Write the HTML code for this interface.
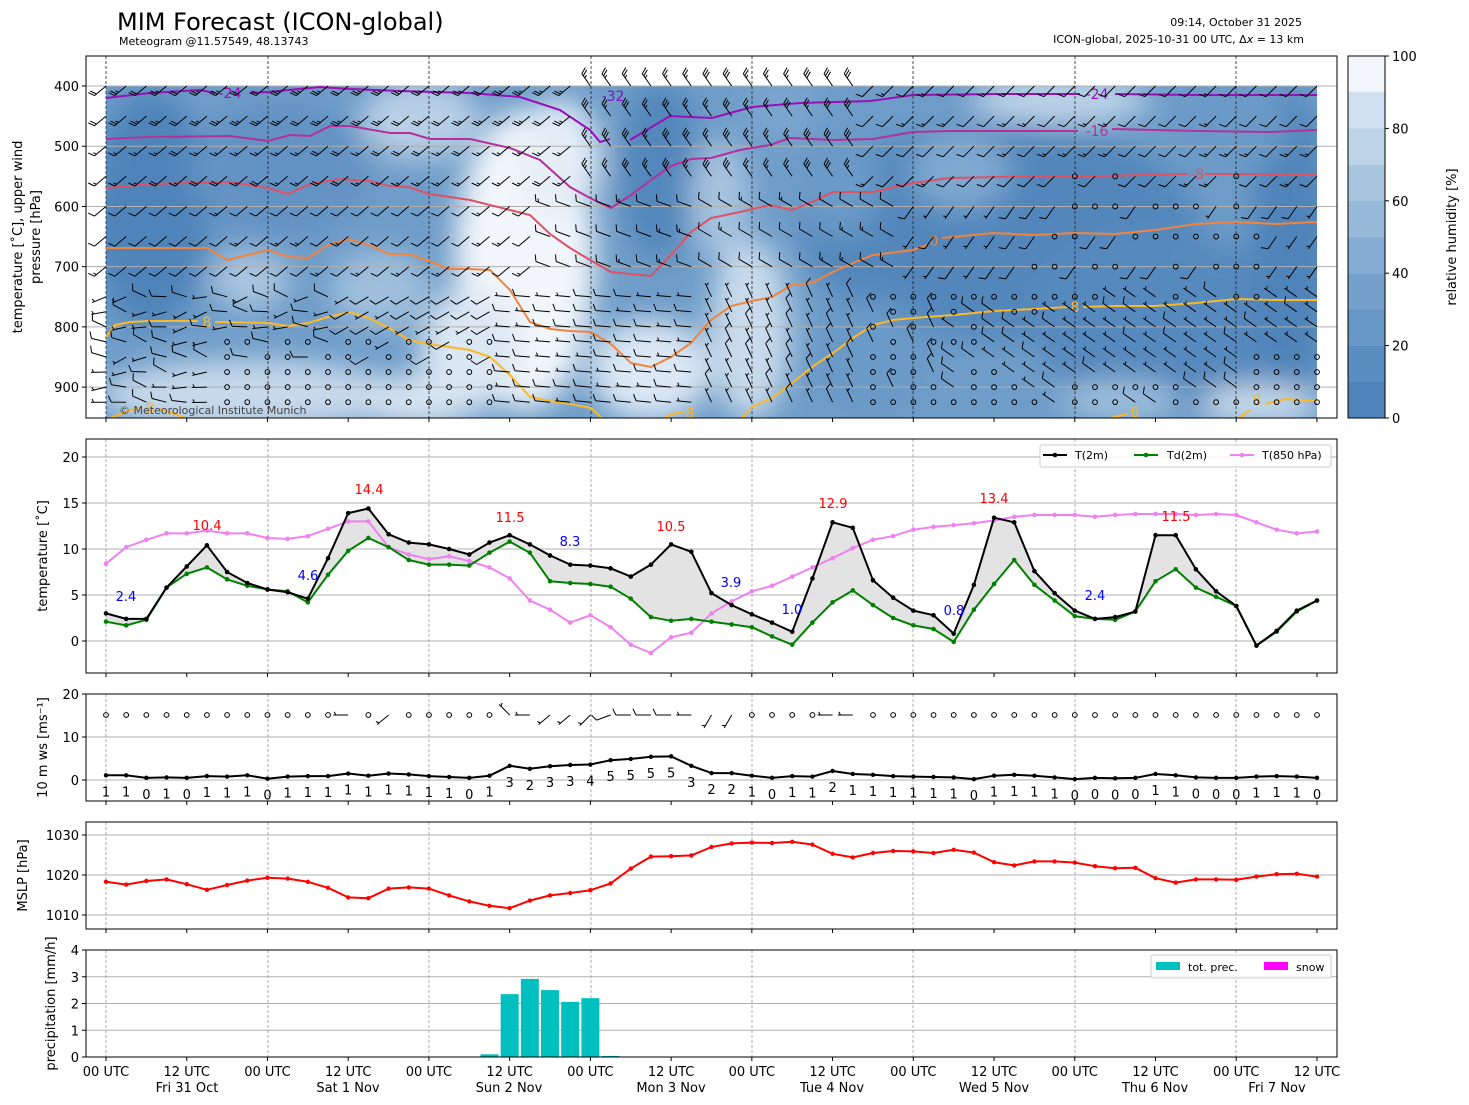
<!DOCTYPE html>
<html><head><meta charset="utf-8"><style>
html,body{margin:0;padding:0;background:#fff;}
svg{display:block;font-family:"DejaVu Sans","Liberation Sans",sans-serif;}
</style></head><body>
<svg id="s" width="1469" height="1105" viewBox="0 0 1469 1105" xmlns="http://www.w3.org/2000/svg">
<defs>
<filter id="bl" x="-20%" y="-20%" width="140%" height="140%"><feGaussianBlur stdDeviation="14"/></filter>
<clipPath id="c1"><rect x="106" y="86" width="1211" height="332"/></clipPath>
<clipPath id="c1b"><rect x="86" y="56" width="1251" height="362"/></clipPath>
</defs>
<text x="117" y="30" font-size="24">MIM Forecast (ICON-global)</text>
<text x="119" y="45" font-size="11">Meteogram @11.57549, 48.13743</text>
<text x="1302" y="26" font-size="11" text-anchor="end">09:14, October 31 2025</text>
<text x="1304" y="43" font-size="11" text-anchor="end">ICON-global, 2025-10-31 00 UTC, Δ<tspan font-style="italic">x</tspan> = 13 km</text>
<g id="g"></g>
</svg>
<script>
var NS="http://www.w3.org/2000/svg",G=document.getElementById('g');
function el(t,a,txt){var e=document.createElementNS(NS,t);for(var k in a)e.setAttribute(k,a[k]);if(txt!==undefined)e.textContent=txt;G.appendChild(e);return e;}
function X(i){return 106+i*20.1833;}
var dayX=[106,268,429,591,752,913,1075,1236];
function pl(pts,st,w,extra){var d=pts.map(function(p){return p[0].toFixed(1)+','+p[1].toFixed(1)}).join(' ');var a={points:d,fill:'none',stroke:st,'stroke-width':w,'stroke-linejoin':'round'};for(var k in extra)a[k]=extra[k];return el('polyline',a);}
function txt(x,y,s,size,anchor,col,extra){var a={x:x,y:y,'font-size':size,'text-anchor':anchor||'start',fill:col||'#000'};for(var k in extra)a[k]=extra[k];return el('text',a,s);}
function vtxt(x,y,s,size){return el('text',{x:0,y:0,'font-size':size,'text-anchor':'middle',transform:'translate('+x+','+y+') rotate(-90)'},s);}

// ===== Panel 1 =====
var YP=function(p){return 86+(p-400)*0.6022;};
var bg=el('g',{'clip-path':'url(#c1)'});
function blob(cx,cy,rx,ry,col,op){var e=document.createElementNS(NS,'ellipse');e.setAttribute('cx',cx);e.setAttribute('cy',cy);e.setAttribute('rx',rx);e.setAttribute('ry',ry);e.setAttribute('fill',col);e.setAttribute('fill-opacity',op||1);return e;}
var r=document.createElementNS(NS,'rect');r.setAttribute('x',106);r.setAttribute('y',86);r.setAttribute('width',1211);r.setAttribute('height',332);r.setAttribute('fill','#6f9dc9');bg.appendChild(r);
var bf=document.createElementNS(NS,'g');bf.setAttribute('filter','url(#bl)');bg.appendChild(bf);
[[150,210,60,120,'#4f84ba'],[280,170,90,70,'#6393c4'],[250,280,40,30,'#a9c5e0'],[420,120,60,40,'#b8cfe6'],
[380,290,50,40,'#9fbfdd'],
[525,260,70,150,'#f2f6fb'],[560,160,40,60,'#e5eef7'],[470,350,50,60,'#dbe7f3'],
[250,395,150,35,'#c7d9eb'],[420,400,60,25,'#d8e5f2'],
[660,170,40,90,'#5287bc'],[650,370,60,50,'#dce8f4'],[750,330,40,90,'#c9dbec'],[720,200,30,60,'#a6c3df'],
[1000,230,200,110,'#5287bc'],[1160,320,130,90,'#5689be'],[1290,250,40,160,'#4f84ba'],[870,360,60,60,'#6b9ac7'],
[1060,100,90,25,'#bcd3e8'],[960,170,50,40,'#7ea8d0'],[1230,130,60,40,'#6b9ac7'],[1120,400,60,20,'#9ebfdd'],[1260,405,60,20,'#c9dbec'],[840,180,40,60,'#6b9ac7'],[780,110,40,30,'#7aa5cf']
].forEach(function(b){bf.appendChild(blob(b[0],b[1],b[2],b[3],b[4]));});
[400,500,600,700,800,900].forEach(function(p){el('line',{x1:86,x2:1337,y1:YP(p),y2:YP(p),stroke:'#b0b0b0','stroke-width':1});});
dayX.forEach(function(x){el('line',{x1:x,x2:x,y1:56,y2:418,stroke:'#222','stroke-width':0.8,'stroke-dasharray':'3,2'});});
var cg=el('g',{'clip-path':'url(#c1)'});
function cl(pts,col){var d=pts.map(function(p){return p[0]+','+p[1]}).join(' ');var e=document.createElementNS(NS,'polyline');e.setAttribute('points',d);e.setAttribute('fill','none');e.setAttribute('stroke',col);e.setAttribute('stroke-width',2);cg.appendChild(e);}
cl([[106,98],[150,93],[200,90],[215,93]],'#9b0fb8');
cl([[250,93],[268,92],[320,87],[350,89],[400,91],[470,93],[520,97],[560,110],[590,130],[600,142],[610,139]],'#9b0fb8');
cl([[630,140],[670,116],[712,118],[752,107],[800,103],[870,101],[913,95],[1000,94],[1080,94]],'#9b0fb8');
cl([[1115,94],[1200,95],[1317,95]],'#9b0fb8');
cl([[106,139],[150,137],[230,136],[268,141],[290,135],[310,136],[330,126],[350,126],[390,133],[410,133],[430,139],[470,139],[510,148],[540,160],[570,187],[590,198],[611,208],[631,195],[651,180],[671,166],[691,159],[711,158],[740,150],[770,145],[790,138],[833,140],[873,139],[913,132],[950,131],[1078,131]],'#b5309a');
cl([[1112,129],[1200,131],[1270,132],[1317,130]],'#b5309a');
cl([[106,188],[150,184],[230,182],[268,188],[288,194],[310,184],[340,179],[370,181],[389,186],[409,187],[429,194],[470,200],[510,210],[530,215],[550,234],[570,248],[590,260],[611,272],[631,274],[651,276],[671,255],[691,232],[711,218],[740,212],[770,205],[792,210],[812,202],[833,192],[873,192],[913,183],[950,178],[1000,177],[1054,176],[1100,176],[1188,174]],'#dd5265');
cl([[1205,174],[1317,174]],'#dd5265');
cl([[106,248],[150,248],[207,248],[227,260],[268,250],[290,257],[308,258],[328,245],[348,239],[369,245],[389,254],[409,254],[429,261],[449,269],[469,269],[490,270],[510,290],[530,322],[550,329],[570,331],[591,332],[611,344],[631,363],[651,367],[671,357],[691,343],[711,320],[731,306],[752,301],[772,297],[792,285],[812,283],[833,272],[853,263],[873,255],[913,250],[927,245]],'#f0843e');
cl([[942,238],[994,233],[1034,235],[1075,233],[1115,234],[1155,230],[1196,224],[1236,222],[1276,224],[1317,222]],'#f0843e');
cl([[106,337],[115,325],[130,322],[150,321],[187,321],[198,321]],'#fbb829');
cl([[215,322],[227,322],[268,323],[288,326],[308,323],[328,317],[350,312],[369,318],[389,328],[409,340],[429,344],[449,347],[470,350],[490,357],[510,375],[530,397],[550,401],[570,404],[591,408],[604,420]],'#fbb829');
cl([[740,420],[752,407],[772,398],[792,383],[812,367],[833,353],[853,338],[873,325],[893,320],[913,318],[954,315],[994,311],[1034,309],[1068,307]],'#fbb829');
cl([[1083,307],[1115,306],[1155,306],[1196,303],[1236,299],[1276,300],[1317,300]],'#fbb829');
cl([[106,420],[125,412],[140,408]],'#fbb829');cl([[160,409],[175,414],[190,420]],'#fbb829');
cl([[660,420],[672,414],[684,412]],'#fbb829');cl([[1105,420],[1118,416],[1128,414]],'#fbb829');
cl([[1236,420],[1250,410]],'#fbb829');cl([[1266,404],[1285,399],[1317,401]],'#fbb829');
txt(230,98,'-24',14,'middle','#9b0fb8');txt(613,101,'-32',14,'middle','#7a18b8');txt(1097,99,'-24',14,'middle','#9b0fb8');
txt(1097,136,'-16',14,'middle','#b5309a');txt(1197,179,'-8',14,'middle','#dd5265');txt(934,246,'0',14,'middle','#f0843e');
txt(207,327,'8',14,'middle','#fbb829');txt(1075,312,'8',14,'middle','#fbb829');txt(150,413,'8',14,'middle','#fbb829');
txt(690,418,'8',14,'middle','#fbb829');txt(1135,417,'8',14,'middle','#fbb829');txt(1257,405,'8',14,'middle','#fbb829');
txt(119,414,'© Meteorological Institute Munich',11,'start','#444');
var bars=el('g',{'clip-path':'url(#c1b)',stroke:'#000','stroke-width':1,fill:'none'});
function barb(parent,x,y,ang,spd){
 if(spd<2.5){var c=document.createElementNS(NS,'circle');c.setAttribute('cx',x);c.setAttribute('cy',y);c.setAttribute('r',2.4);parent.appendChild(c);return;}
 var a=ang*Math.PI/180,L=15,dx=Math.cos(a),dy=Math.sin(a);
 var ex=x+L*dx,ey=y+L*dy;
 var fa=a+65*Math.PI/180,fx=Math.cos(fa),fy=Math.sin(fa);
 var d='M'+x.toFixed(1)+','+y.toFixed(1)+'L'+ex.toFixed(1)+','+ey.toFixed(1);
 var n=Math.floor(spd/10),h=(spd%10)>=5?1:0,pos=0;
 for(var k=0;k<n;k++){var bx=ex-dx*pos*2.6,by=ey-dy*pos*2.6;d+='M'+bx.toFixed(1)+','+by.toFixed(1)+'l'+(fx*7).toFixed(1)+','+(fy*7).toFixed(1);pos++;}
 if(h){if(pos==0)pos=1;var bx=ex-dx*pos*2.6,by=ey-dy*pos*2.6;d+='M'+bx.toFixed(1)+','+by.toFixed(1)+'l'+(fx*3.5).toFixed(1)+','+(fy*3.5).toFixed(1);}
 var p=document.createElementNS(NS,'path');p.setAttribute('d',d);parent.appendChild(p);
}
var levs=[400,450,500,550,600,650,700,750,775,800,825,850,875,900,925];
function hsh(i,j){var s=Math.sin(i*12.9898+j*78.233)*43758.5453;return s-Math.floor(s);}
for(var i=0;i<=60;i++){var x=X(i);
 for(var j=0;j<levs.length;j++){var p=levs[j],y=YP(p),ang,spd,rn=hsh(i,j);
  if(p<=550){ if(i>=24&&i<=37){ang=235;spd=25+rn*10;} else if(i<24){ang=140;spd=(p<=450?22:15)+rn*8;} else {ang=135;spd=10+rn*8;} }
  else if(p<=700){ if(i<22){ang=140;spd=10+rn*6;} else if(i<40){ang=i<30?200:210;spd=10+rn*6;} else {ang=125;spd=6+rn*6;} }
  else { if(i<12){ang=150+rn*60;spd=7+rn*6;} else if(i<30){ang=i<20?150:185;spd=8+rn*5;} else if(i<42){ang=245;spd=6+rn*6;} else {ang=215;spd=5+rn*6;} }
  if(p>=825&&i>=6&&i<=19&&((i+j)%3!=0||p>=875)) spd=0;
  if(p>=650&&p<=750&&i>=45&&i<=57&&rn<0.75) spd=0;
  if(p>=750&&p<=775&&i>=38&&i<=47&&rn<0.7) spd=0;
  if(p>=800&&i>=38&&i<=44&&rn<0.6) spd=0;
  if(p>=900&&i>=38&&(rn<0.7)) spd=0;
  if(p>=850&&i>=57) spd=0;
  if(p<=700&&p>=550&&i>=48&&i<=56&&rn<0.4) spd=0;
  barb(bars,x,y,ang,spd);
 }}
el('rect',{x:86,y:56,width:1251,height:362,fill:'none',stroke:'#000','stroke-width':1});
[400,500,600,700,800,900].forEach(function(p){var y=YP(p);el('line',{x1:82,x2:86,y1:y,y2:y,stroke:'#000'});txt(79,y+5,String(p),13,'end');});
vtxt(22,237,'temperature [˚C], upper wind',13);vtxt(40,237,'pressure [hPa]',13);
var cbc=['#4f84ba','#5a8dc0','#6797c6','#76a1cc','#86add3','#97b9da','#a9c6e1','#bcd3e8','#cfdfef','#e2ecf6'];
for(var k=0;k<10;k++){el('rect',{x:1348,y:418-(k+1)*36.2,width:37,height:36.4,fill:cbc[k]});}
el('rect',{x:1348,y:56,width:37,height:35,fill:'#f3f7fb'});
el('rect',{x:1348,y:56,width:37,height:362,fill:'none',stroke:'#000','stroke-width':1});
[0,20,40,60,80,100].forEach(function(v){var y=418-v*3.62;el('line',{x1:1385,x2:1389,y1:y,y2:y,stroke:'#000'});txt(1392,y+5,String(v),13);});
el('text',{x:0,y:0,'font-size':13,'text-anchor':'middle',transform:'translate(1456,237) rotate(-90)'},'relative humidity [%]');

function panel(y0,y1,ticks,yf,label,lx){
 ticks.forEach(function(t){var y=yf(t);el('line',{x1:86,x2:1337,y1:y,y2:y,stroke:'#b0b0b0','stroke-width':1});el('line',{x1:82,x2:86,y1:y,y2:y,stroke:'#000'});txt(79,y+5,String(t),13,'end');});
 dayX.forEach(function(x){el('line',{x1:x,x2:x,y1:y0,y2:y1,stroke:'#999','stroke-width':0.8,'stroke-dasharray':'3,2'});});
 vtxt(lx,(y0+y1)/2,label,13);
}
function frame(y0,y1){el('rect',{x:86,y:y0,width:1251,height:y1-y0,fill:'none',stroke:'#000','stroke-width':1});for(var k=0;k<=15;k++){var x=106+k*80.73;el('line',{x1:x,x2:x,y1:y1,y2:y1+4,stroke:'#000'});}}
for(var k=0;k<=15;k++){var x=106+k*80.73;el('line',{x1:x,x2:x,y1:418,y2:422,stroke:'#000'});}

var T=[3.0,2.4,2.4,5.8,8.1,10.4,7.5,6.3,5.6,5.3,4.6,9.0,13.9,14.4,11.6,10.7,10.5,10.0,9.4,10.7,11.5,10.5,9.3,8.3,8.2,7.9,7.0,8.3,10.5,9.7,5.2,3.9,2.9,2.0,1.0,6.8,12.9,12.3,6.6,4.7,3.3,2.8,0.8,6.1,13.4,12.9,7.6,5.2,3.3,2.4,2.6,3.2,11.5,11.5,7.8,5.4,3.8,-0.5,1.1,3.3,4.4];
var Td=[2.1,1.7,2.3,5.8,7.3,8.0,6.7,6.0,5.6,5.4,4.2,7.2,9.8,11.2,10.2,8.8,8.3,8.3,8.2,9.6,10.8,9.6,6.5,6.3,6.2,5.9,4.6,2.6,2.2,2.4,2.1,1.8,1.5,0.5,-0.4,2.0,4.2,5.5,3.9,2.5,1.7,1.3,-0.1,3.4,6.2,8.8,6.1,4.4,2.7,2.4,2.3,3.2,6.5,7.8,5.8,4.8,3.8,-0.5,1.0,3.2,4.4];
var T8=[8.4,10.2,11.0,11.7,11.7,12.0,11.7,11.7,11.2,11.1,11.4,12.2,13.0,13.0,10.2,9.4,8.9,9.2,8.7,8.0,6.8,4.4,3.4,2.0,2.8,1.5,-0.4,-1.3,0.4,0.9,3.0,4.3,5.4,6.0,7.0,8.0,9.0,10.1,11.0,11.4,12.1,12.4,12.6,12.8,13.1,13.5,13.7,13.7,13.7,13.5,13.7,13.8,13.8,13.8,13.7,13.8,13.7,12.9,12.1,11.7,11.9];
var Y2=function(t){return 641-t*9.2;};
panel(439,673,[0,5,10,15,20],Y2,'temperature [˚C]',47);
var poly=[];for(var i=0;i<=60;i++)poly.push([X(i),Y2(T[i])]);for(var i=60;i>=0;i--)poly.push([X(i),Y2(Td[i])]);
el('polygon',{points:poly.map(function(p){return p[0].toFixed(1)+','+p[1].toFixed(1)}).join(' '),fill:'#e3e3e3',stroke:'#bbb','stroke-width':0.6});
function series(arr,yf,col,r){var pts=arr.map(function(v,i){return [X(i),yf(v)]});pl(pts,col,2);pts.forEach(function(p){el('circle',{cx:p[0],cy:p[1],r:r||2.3,fill:col});});}
series(T8,Y2,'#ee82ee');series(Td,Y2,'#008000');series(T,Y2,'#000');
[[207,530,'10.4'],[369,494,'14.4'],[510,522,'11.5'],[671,531,'10.5'],[833,508,'12.9'],[994,503,'13.4'],[1176,521,'11.5']].forEach(function(a){txt(a[0],a[1],a[2],13,'middle','#f00');});
[[126,601,'2.4'],[308,580,'4.6'],[570,546,'8.3'],[731,587,'3.9'],[792,614,'1.0'],[954,615,'0.8'],[1095,600,'2.4']].forEach(function(a){txt(a[0],a[1],a[2],13,'middle','#00f');});
el('rect',{x:1040,y:445,width:291,height:22,fill:'#fff','fill-opacity':0.85,stroke:'#ccc',rx:2});
[[1043,1075,'#000','T(2m)'],[1134,1167,'#008000','Td(2m)'],[1230,1262,'#ee82ee','T(850 hPa)']].forEach(function(l){el('line',{x1:l[0],x2:l[0]+24,y1:455,y2:455,stroke:l[2],'stroke-width':2});el('circle',{cx:l[0]+12,cy:455,r:2.3,fill:l[2]});txt(l[1],459,l[3],11);});
frame(439,673);

var WS=[1.1,1.1,0.5,0.6,0.5,0.9,0.8,1.1,0.3,0.8,0.9,0.9,1.5,1.0,1.5,1.3,0.9,0.7,0.5,1.0,3.3,2.6,3.2,3.5,3.6,4.6,4.9,5.4,5.5,3.3,1.6,1.6,1.0,0.5,0.9,0.8,2.1,1.4,1.2,0.9,0.8,0.7,0.6,0.2,1.0,1.2,1.0,0.6,0.2,0.5,0.4,0.5,1.4,1.1,0.6,0.5,0.5,0.8,0.9,0.8,0.5];
var WL=[1,1,0,1,0,1,1,1,0,1,1,1,1,1,1,1,1,1,0,1,3,2,3,3,4,5,5,5,5,3,2,2,1,0,1,1,2,1,1,1,1,1,1,0,1,1,1,1,0,0,0,0,1,1,0,0,0,1,1,1,0];
var Y3=function(v){return 780-v*4.3;};
panel(694,801,[0,10,20],Y3,'10 m ws [ms⁻¹]',47);
series(WS,Y3,'#000',2.2);
WL.forEach(function(v,i){txt(X(i),Y3(WS[i])+21,String(v),13,'middle');});
var b3=el('g',{stroke:'#000','stroke-width':1,fill:'none'});
var wb={12:[180,8],14:[140,6],20:[225,6],21:[180,6],22:[140,6],23:[140,6],24:[135,6],25:[160,12],26:[180,10],27:[180,10],28:[180,10],29:[180,6],30:[120,6],31:[120,6],36:[180,6],37:[180,6]};
for(var i=0;i<=60;i++){var w=wb[i];if(w)barb(b3,X(i),715,w[0],w[1]);else barb(b3,X(i),715,0,0);}
frame(694,801);

var MS=[1018.3,1017.6,1018.5,1018.9,1017.7,1016.3,1017.5,1018.6,1019.3,1019.1,1018.3,1016.8,1014.4,1014.2,1016.6,1016.9,1016.6,1014.9,1013.4,1012.3,1011.7,1013.6,1014.9,1015.5,1016.2,1017.9,1021.6,1024.6,1024.7,1024.9,1027.0,1027.9,1028.1,1028.0,1028.3,1027.6,1025.3,1024.4,1025.5,1026.0,1025.9,1025.5,1026.3,1025.6,1023.2,1022.4,1023.4,1023.4,1023.1,1022.2,1021.7,1021.8,1019.2,1018.1,1018.9,1018.9,1018.8,1019.6,1020.2,1020.3,1019.6];
var Y4=function(p){return 875-(p-1020)*4;};
panel(822,929,[1010,1020,1030],Y4,'MSLP [hPa]',27);
series(MS,Y4,'#f00',2.2);
frame(822,929);

var Y5=function(r){return 1057-r*26.75;};
panel(950,1057,[0,1,2,3,4],Y5,'precipitation [mm/h]',55);
var PR={19:0.1,20:2.35,21:2.92,22:2.5,23:2.06,24:2.2,25:0.04};
for(var k in PR){var x=X(+k);el('rect',{x:x-9,y:Y5(PR[k]),width:18,height:1057-Y5(PR[k]),fill:'#00bfbf'});}
el('rect',{x:1151,y:955,width:180,height:23,fill:'#fff','fill-opacity':0.85,stroke:'#ccc',rx:2});
el('rect',{x:1156,y:962,width:24,height:8,fill:'#00bfbf'});txt(1188,971,'tot. prec.',11);
el('rect',{x:1264,y:962,width:24,height:8,fill:'#ff00ff'});txt(1296,971,'snow',11);
frame(950,1057);
for(var k=0;k<=15;k++){var x=106+k*80.73;txt(x,1076,k%2?'12 UTC':'00 UTC',13,'middle');}
[[187,'Fri 31 Oct'],[348,'Sat 1 Nov'],[509,'Sun 2 Nov'],[671,'Mon 3 Nov'],[832,'Tue 4 Nov'],[994,'Wed 5 Nov'],[1155,'Thu 6 Nov'],[1277,'Fri 7 Nov']].forEach(function(a){txt(a[0],1092,a[1],13,'middle');});
</script>
</body></html>
